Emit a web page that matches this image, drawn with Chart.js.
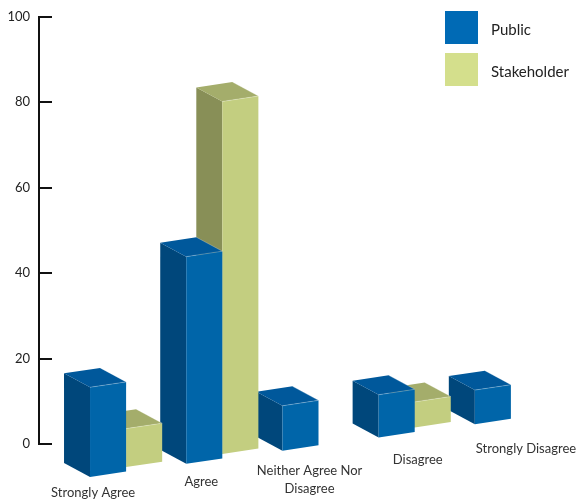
<!DOCTYPE html>
<html><head><meta charset="utf-8">
<script src="https://cdn.jsdelivr.net/npm/chart.js@4.4.0/dist/chart.umd.min.js"></script>
<style>html,body{margin:0;padding:0;background:#fff;}#wrap{width:576px;height:502px;position:relative;}</style>
</head><body><div id="wrap"><canvas id="c" width="576" height="502"></canvas></div>
<script>
const categories = [["Strongly Agree"], ["Agree"], ["Neither Agree Nor", "Disagree"], ["Disagree"], ["Strongly Disagree"]];
const seriesNames = ["Public", "Stakeholder"];
const publicValues = [21, 48.5, 10.5, 10, 8];
const stakeholderValues = [9, 82.5, 0, 6, 0];
const yTicks = [0, 20, 40, 60, 80, 100];

const FONT = "Lato, 'Open Sans', sans-serif";
const styles = [
  {front: '#0065A9', side: '#00477B', top: '#00589B', legend: '#006AB5'},
  {front: '#C3CE80', side: '#888F57', top: '#A4AD6B', legend: '#D4DF8C'}
];
const DX = 26, DY = 14;    // depth vector (front -> back is -DX,-DY)
const OFFX = 39;           // front face shift from the bar slot
const DROP = 33;           // baseline drop at first bar
const SLOPE = 0.137;       // baseline rise per px to the right
const SKEW = 0.15;         // face edge skew
const STAKE_LIFT = 5;

function box(ctx, xL, yB, w, h, st) {
  const FLB = [xL, yB], FRB = [xL + w, yB - SKEW * w];
  const FLT = [xL, yB - h], FRT = [xL + w, yB - SKEW * w - h];
  const BLT = [FLT[0] - DX, FLT[1] - DY], BRT = [FRT[0] - DX, FRT[1] - DY], BLB = [FLB[0] - DX, FLB[1] - DY];
  const poly = (pts, c) => { ctx.beginPath(); ctx.moveTo(pts[0][0], pts[0][1]); for (let k = 1; k < pts.length; k++) ctx.lineTo(pts[k][0], pts[k][1]); ctx.closePath(); ctx.fillStyle = c; ctx.fill(); };
  poly([FLT, FLB, BLB, BLT], st.side);
  poly([FLT, FRT, BRT, BLT], st.top);
  poly([FLB, FRB, FRT, FLT], st.front);
  ctx.strokeStyle = 'rgba(255,255,255,0.35)'; ctx.lineWidth = 0.7;
  ctx.beginPath(); ctx.moveTo(FLT[0], FLT[1]); ctx.lineTo(FRT[0], FRT[1]); ctx.lineTo(BRT[0], BRT[1]); ctx.stroke();
}

const threeD = {
  id: 'threeD',
  beforeDatasetsDraw(chart) {
    const ctx = chart.ctx;
    const m0 = chart.getDatasetMeta(0);
    const x0 = m0.data[0].x - m0.data[0].width / 2 + OFFX;
    ctx.save();
    for (let i = categories.length - 1; i >= 0; i--) {
      for (const d of [1, 0]) {
        const el = chart.getDatasetMeta(d).data[i];
        const h = el.base - el.y;
        if (h <= 0.5) continue;
        const xL = el.x - el.width / 2 + OFFX;
        const yB = el.base + DROP - SLOPE * (xL - x0) - (d === 1 ? STAKE_LIFT : 0);
        box(ctx, xL, yB, el.width, h, styles[d]);
      }
    }
    ctx.restore();
    return false;
  },
  afterDraw(chart) {
    const ctx = chart.ctx, area = chart.chartArea, ys = chart.scales.y, xs = chart.scales.x;
    ctx.save();
    ctx.strokeStyle = '#111'; ctx.lineWidth = 2;
    yTicks.forEach(v => {
      const y = Math.round(ys.getPixelForValue(v));
      ctx.beginPath(); ctx.moveTo(area.left, y); ctx.lineTo(area.left + 13, y); ctx.stroke();
    });
    ctx.fillStyle = '#333'; ctx.font = '13px ' + FONT; ctx.textAlign = 'center'; ctx.textBaseline = 'middle';
    const c0 = xs.getPixelForValue(0);
    categories.forEach((lines, i) => {
      const c = xs.getPixelForValue(i);
      const lx = c + 6 + (c - c0) * 0.125;
      const ly = area.bottom + 49 - (c - c0) * 0.1143;
      lines.forEach((t, k) => ctx.fillText(t, lx, ly + k * 18));
    });
    ctx.textAlign = 'left'; ctx.font = '15px ' + FONT;
    seriesNames.forEach((n, k) => {
      const y = 11 + k * 42;
      ctx.fillStyle = styles[k].legend; ctx.fillRect(445, y, 33, 33);
      ctx.fillStyle = '#222'; ctx.fillText(n, 491, y + 19);
    });
    ctx.restore();
  }
};

new Chart(document.getElementById('c'), {
  type: 'bar',
  data: {
    labels: categories.map(c => c.join(' ')),
    datasets: [
      {label: seriesNames[0], data: publicValues, backgroundColor: styles[0].legend, categoryPercentage: 0.75, barPercentage: 1},
      {label: seriesNames[1], data: stakeholderValues, backgroundColor: styles[1].legend, categoryPercentage: 0.75, barPercentage: 1}
    ]
  },
  options: {
    responsive: false, animation: false, devicePixelRatio: 1,
    layout: {padding: {top: 14, right: 56, bottom: 58, left: 0}},
    plugins: {legend: {display: false}, tooltip: {enabled: false}},
    scales: {
      x: {display: false},
      y: {
        min: 0, max: 100,
        afterBuildTicks: s => { s.ticks = yTicks.map(v => ({value: v})); },
        afterFit: s => { s.width = 39; },
        ticks: {color: '#222', font: {family: FONT, size: 13}, padding: 9},
        grid: {display: false, drawTicks: false},
        border: {display: true, color: '#111', width: 2}
      }
    }
  },
  plugins: [threeD]
});
</script></body></html>
